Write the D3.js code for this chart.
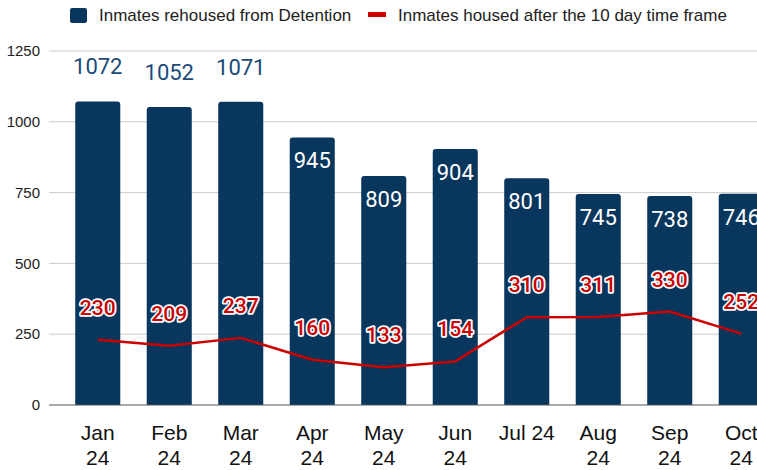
<!DOCTYPE html>
<html>
<head>
<meta charset="utf-8">
<script src="https://cdn.jsdelivr.net/npm/d3@7"></script>
<style>
  html, body { margin: 0; padding: 0; background: #fff; }
  svg { display: block; }
</style>
</head>
<body>
<svg id="chart" width="757" height="470"></svg>
<script>
// Monthly figures
const months = [["Jan", "24"], ["Feb", "24"], ["Mar", "24"], ["Apr", "24"], ["May", "24"], ["Jun", "24"], ["Jul 24"], ["Aug", "24"], ["Sep", "24"], ["Oct", "24"]];
const monthKeys = months.map(m => m.join(" "));
const rehoused = [1072, 1052, 1071, 945, 809, 904, 801, 745, 738, 746];
const lateHoused = [230, 209, 237, 160, 133, 154, 310, 311, 330, 252];
const yTicks = [0, 250, 500, 750, 1000, 1250];
const seriesNames = ["Inmates rehoused from Detention", "Inmates housed after the 10 day time frame"];

const barColor = "#08365d";
const lineColor = "#cc0000";

const svg = d3.select("#chart");
const plotLeft = 49, plotRight = 757, plotTop = 51, plotBottom = 405;

const x = d3.scaleBand().domain(monthKeys).range([62, 777]).paddingInner(0.37).paddingOuter(0.185);
const y = d3.scaleLinear().domain([0, 1250]).range([plotBottom, plotTop]);

// gridlines
svg.append("g").selectAll("line").data(yTicks.filter(t => t > 0)).join("line")
  .attr("x1", plotLeft).attr("x2", plotRight)
  .attr("y1", d => y(d)).attr("y2", d => y(d))
  .attr("stroke", "#cccccc").attr("stroke-width", 1);

// y tick labels
svg.append("g").selectAll("text").data(yTicks).join("text")
  .attr("x", 40).attr("y", d => y(d)).attr("dy", "0.35em")
  .attr("text-anchor", "end")
  .attr("font-family", "Liberation Sans, Arial, sans-serif")
  .attr("font-size", 15).attr("fill", "#222")
  .text(d => d);

// bars with rounded top corners
const r = 3;
svg.append("g").selectAll("path").data(rehoused).join("path")
  .attr("fill", barColor)
  .attr("d", (d, i) => {
    const x0 = x(monthKeys[i]), w = x.bandwidth(), y0 = y(d), y1 = y(0);
    return `M${x0},${y1}V${y0 + r}Q${x0},${y0} ${x0 + r},${y0}H${x0 + w - r}Q${x0 + w},${y0} ${x0 + w},${y0 + r}V${y1}Z`;
  });

// zero axis line
svg.append("line").attr("x1", plotLeft).attr("x2", plotRight)
  .attr("y1", y(0)).attr("y2", y(0))
  .attr("stroke", "#555").attr("stroke-width", 1.2);

// bar value labels: above bar when there is room, inside otherwise
svg.append("g").selectAll("text").data(rehoused).join("text")
  .attr("x", (d, i) => x(monthKeys[i]) + x.bandwidth() / 2)
  .attr("y", d => d > 1000 ? y(d) - 27 : y(d) + 31)
  .attr("text-anchor", "middle")
  .attr("font-family", "Roboto, sans-serif")
  .attr("font-size", 22)
  .attr("fill", d => d > 1000 ? "#1a4a78" : "#ffffff")
  .text(d => d);

// line series
const line = d3.line()
  .x((d, i) => x(monthKeys[i]) + x.bandwidth() / 2)
  .y(d => y(d));
svg.append("path").datum(lateHoused)
  .attr("d", line).attr("fill", "none")
  .attr("stroke", lineColor).attr("stroke-width", 2.5)
  .attr("stroke-linejoin", "round");

// line value labels with white halo
svg.append("g").selectAll("text").data(lateHoused).join("text")
  .attr("x", (d, i) => x(monthKeys[i]) + x.bandwidth() / 2)
  .attr("y", d => y(d) - 25)
  .attr("text-anchor", "middle")
  .attr("font-family", "Roboto, sans-serif")
  .attr("font-weight", 500)
  .attr("font-size", 21)
  .attr("fill", lineColor)
  .attr("stroke", "#ffffff").attr("stroke-width", 3.5)
  .attr("paint-order", "stroke")
  .attr("stroke-linejoin", "round")
  .text(d => d);

// x labels (wrapped)
const xl = svg.append("g").selectAll("text").data(months).join("text")
  .attr("x", (d, i) => x(monthKeys[i]) + x.bandwidth() / 2)
  .attr("y", 440)
  .attr("text-anchor", "middle")
  .attr("font-family", "Liberation Sans, Arial, sans-serif")
  .attr("font-size", 21).attr("fill", "#111");
xl.each(function(d) {
  const t = d3.select(this);
  d.forEach((part, k) => {
    t.append("tspan").attr("x", t.attr("x")).attr("dy", k === 0 ? 0 : 25).text(part);
  });
});

// legend
const lg = svg.append("g").attr("font-family", "Liberation Sans, Arial, sans-serif").attr("font-size", 17).attr("fill", "#222");
lg.append("rect").attr("x", 70).attr("y", 8).attr("width", 17).attr("height", 15).attr("rx", 2).attr("fill", barColor);
lg.append("text").attr("x", 99).attr("y", 15.5).attr("dy", "0.35em").text(seriesNames[0]);
lg.append("rect").attr("x", 368).attr("y", 12).attr("width", 18).attr("height", 5).attr("fill", lineColor);
lg.append("text").attr("x", 398).attr("y", 15.5).attr("dy", "0.35em").text(seriesNames[1]);
</script>
</body>
</html>
